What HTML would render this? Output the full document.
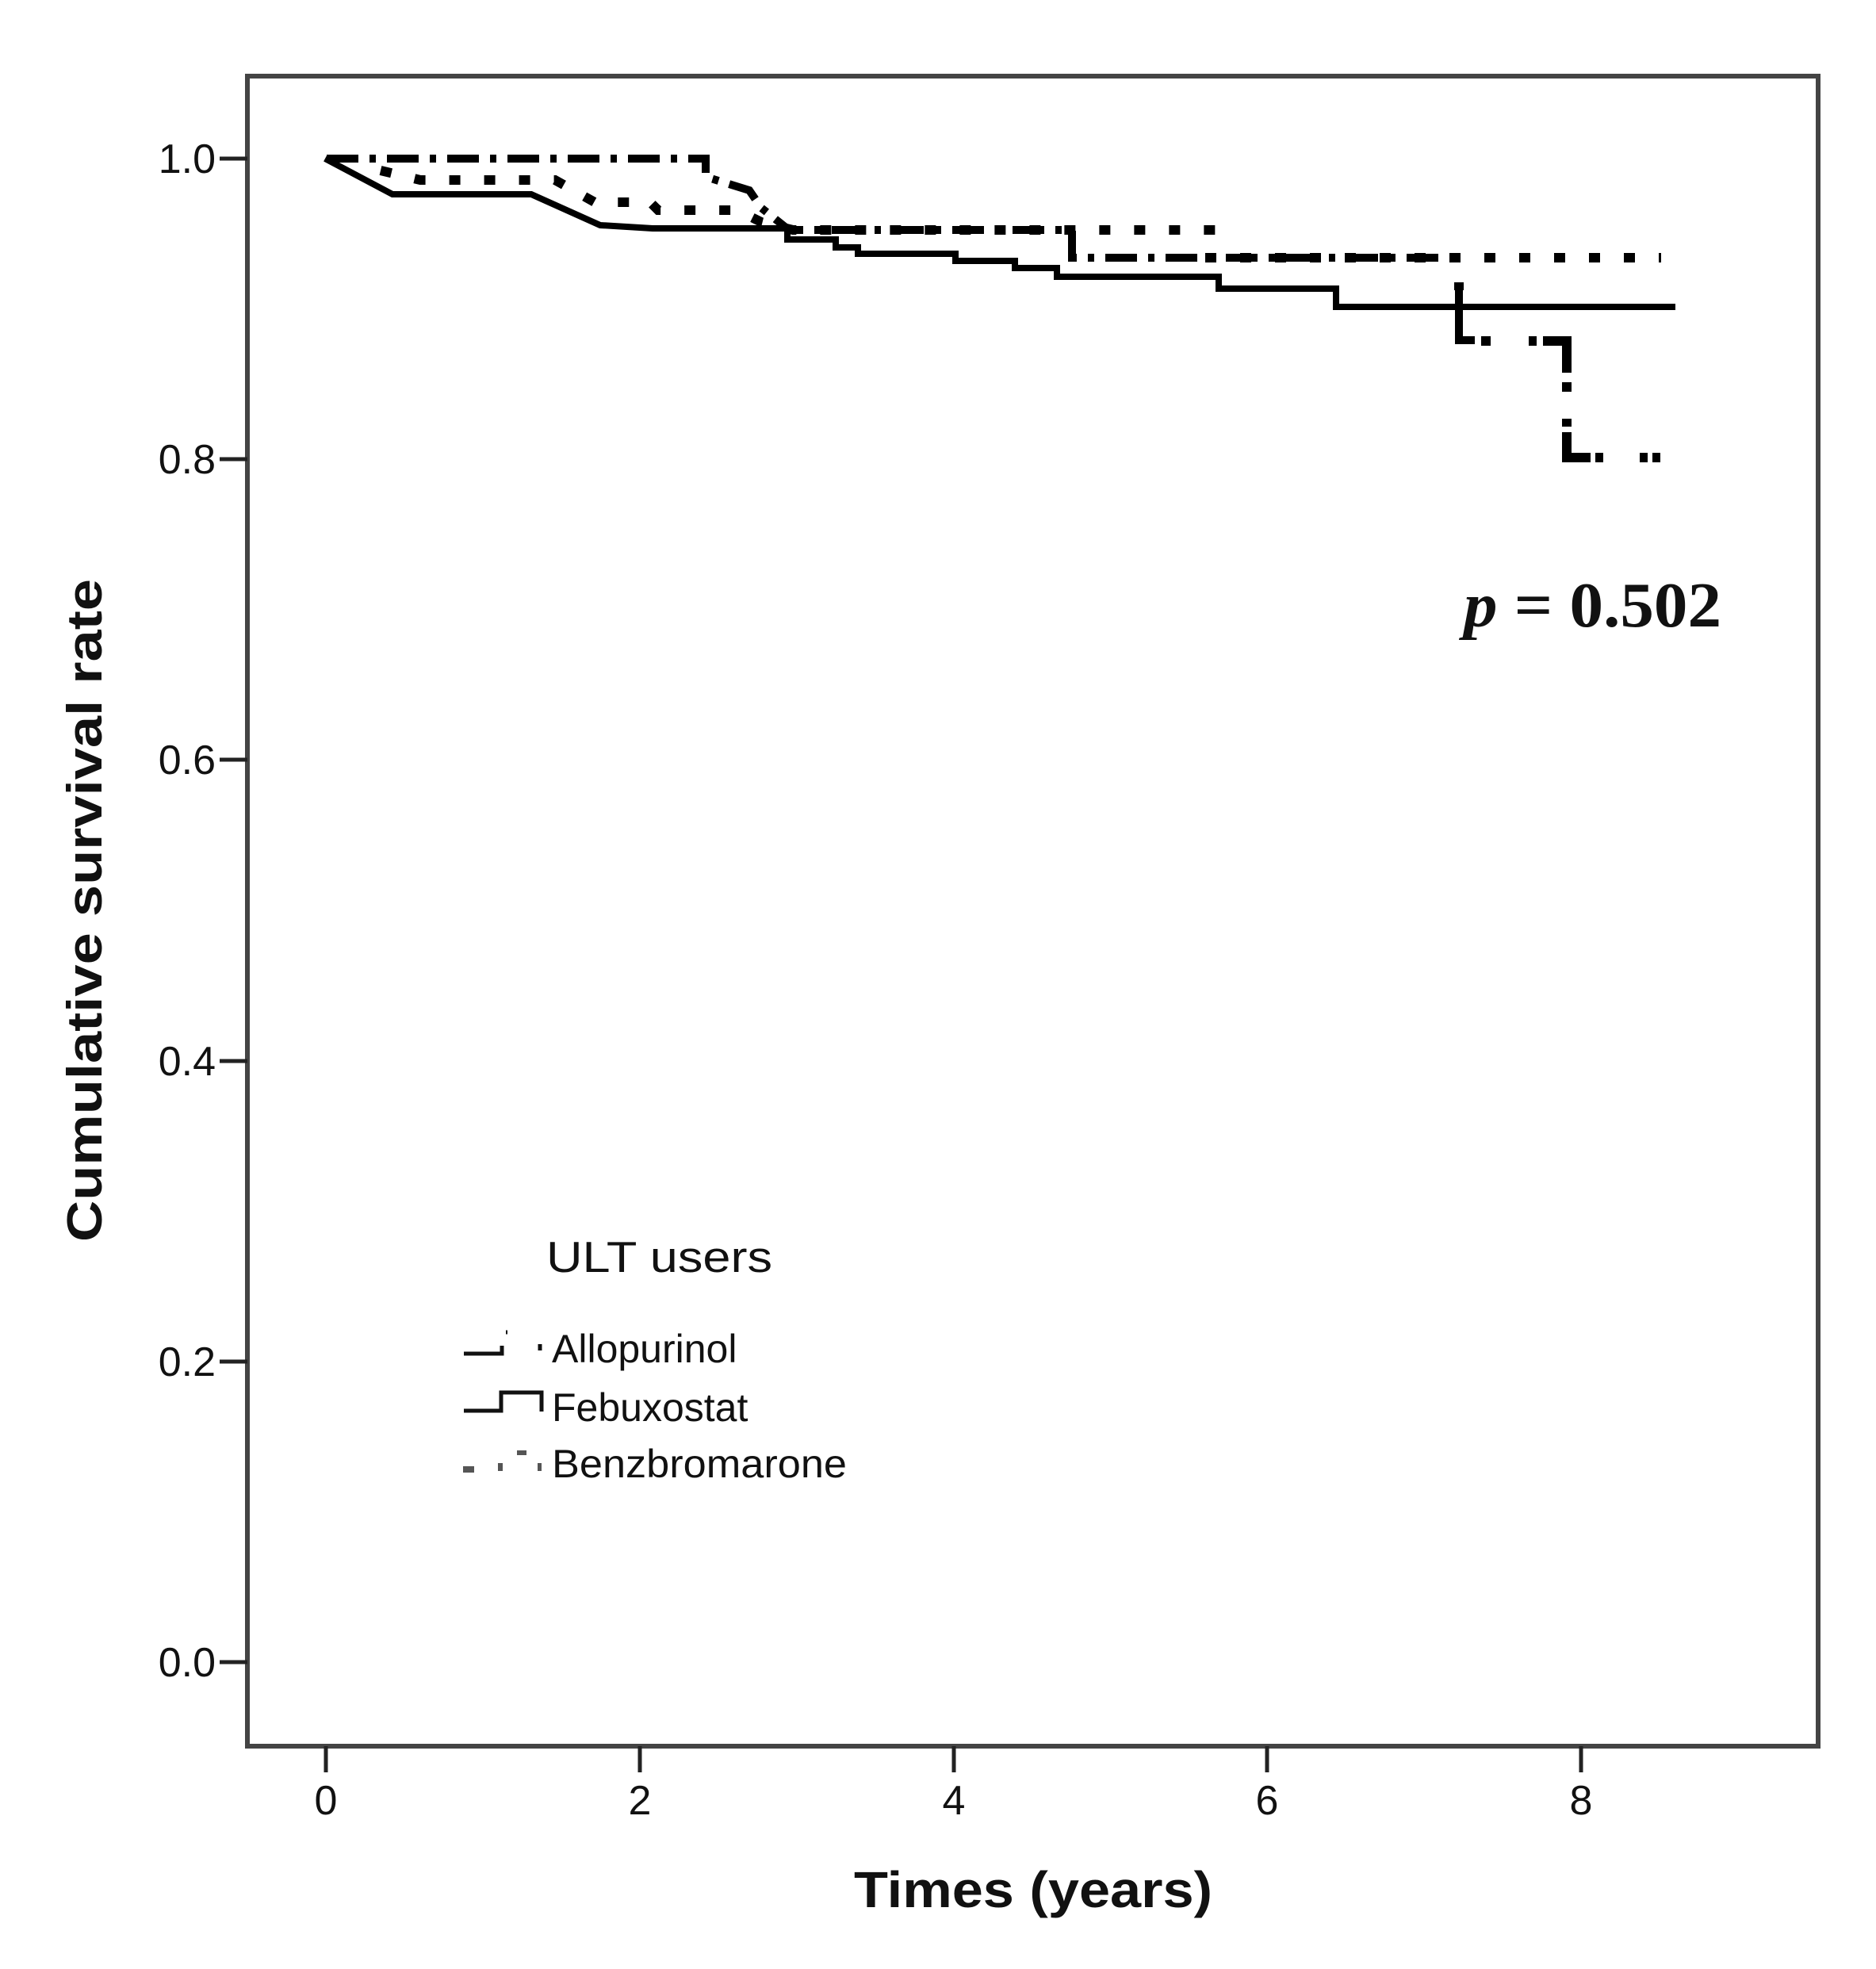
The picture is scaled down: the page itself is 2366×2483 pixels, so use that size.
<!DOCTYPE html>
<html><head><meta charset="utf-8"><style>
html,body{margin:0;padding:0;background:#fff;}
svg{display:block;}
text{font-family:"Liberation Sans",Arial,sans-serif;fill:#111;}
</style></head><body>
<svg width="2366" height="2483" viewBox="0 0 2366 2483" xmlns="http://www.w3.org/2000/svg">
<rect x="0" y="0" width="2366" height="2483" fill="#fff"/>
<rect x="312" y="96" width="1981" height="2106" fill="none" stroke="#444" stroke-width="6"/>
<g stroke="#222" stroke-width="5">
<line x1="277" y1="200" x2="312" y2="200"/>
<line x1="277" y1="579" x2="312" y2="579"/>
<line x1="277" y1="958" x2="312" y2="958"/>
<line x1="277" y1="1338" x2="312" y2="1338"/>
<line x1="277" y1="1717" x2="312" y2="1717"/>
<line x1="277" y1="2096" x2="312" y2="2096"/>
<line x1="411" y1="2202" x2="411" y2="2235"/>
<line x1="807" y1="2202" x2="807" y2="2235"/>
<line x1="1203" y1="2202" x2="1203" y2="2235"/>
<line x1="1598" y1="2202" x2="1598" y2="2235"/>
<line x1="1994" y1="2202" x2="1994" y2="2235"/>
</g>
<g font-size="52" text-anchor="end">
<text x="272" y="218">1.0</text>
<text x="272" y="597">0.8</text>
<text x="272" y="976">0.6</text>
<text x="272" y="1356">0.4</text>
<text x="272" y="1735">0.2</text>
<text x="272" y="2114">0.0</text>
</g>
<g font-size="52" text-anchor="middle">
<text x="411" y="2288">0</text>
<text x="807" y="2288">2</text>
<text x="1203" y="2288">4</text>
<text x="1598" y="2288">6</text>
<text x="1994" y="2288">8</text>
</g>
<text x="1303" y="2405" font-size="64" font-weight="bold" text-anchor="middle" textLength="452" lengthAdjust="spacingAndGlyphs">Times (years)</text>
<text transform="translate(128,1148) rotate(-90)" font-size="62" font-weight="bold" text-anchor="middle" textLength="836" lengthAdjust="spacingAndGlyphs">Cumulative survival rate</text>
<text x="1846" y="790" font-size="80" font-weight="bold" style="font-family:'Liberation Serif',serif" textLength="325" lengthAdjust="spacingAndGlyphs"><tspan font-style="italic">p</tspan> = 0.502</text>

<polyline fill="none" stroke="#000" stroke-width="8" points="410,200 495,245 670,245 757,284 823,288 993,288 993,302 1054,302 1054,312 1082,312 1082,320 1205,320 1205,329 1280,329 1280,338 1333,338 1333,349 1537,349 1537,364 1685,364 1685,387 2113,387"/>
<polyline fill="none" stroke="#000" stroke-width="10" stroke-dasharray="40,14,8,14" points="412,200 890,200 890,223 945,240 960,262 995,290 1352,290 1352,325 1840,325"/>
<polyline fill="none" stroke="#000" stroke-width="10" points="1840,362 1840,429 1860,429"/>
<g fill="#000">
<rect x="1834" y="356" width="12" height="10"/>
<rect x="1868" y="424" width="12" height="12"/>
<rect x="1928" y="424" width="10" height="12"/>
<rect x="1946" y="424" width="30" height="12"/>
<rect x="1970" y="424" width="12" height="46"/>
<rect x="1970" y="482" width="12" height="12"/>
<rect x="1970" y="528" width="12" height="10"/>
<rect x="1970" y="545" width="12" height="38"/>
<rect x="1970" y="571" width="36" height="12"/>
<rect x="2012" y="571" width="10" height="12"/>
<rect x="2068" y="571" width="10" height="12"/>
<rect x="2084" y="571" width="10" height="12"/>
</g>
<polyline fill="none" stroke="#000" stroke-width="12" stroke-dasharray="14,30" points="480,215 530,227 700,227 750,255 820,255 830,265 930,265 960,280 1000,290 1561,290"/>
<polyline fill="none" stroke="#000" stroke-width="12" stroke-dasharray="14,30" points="1520,325 2095,325"/>

<text x="689" y="1604" font-size="55" textLength="285" lengthAdjust="spacingAndGlyphs">ULT users</text>
<g font-size="50">
<text x="696" y="1718">Allopurinol</text>
<text x="696" y="1792">Febuxostat</text>
<text x="696" y="1863" textLength="372" lengthAdjust="spacingAndGlyphs">Benzbromarone</text>
</g>
<g stroke="#111" stroke-width="5" fill="none">
<polyline points="585,1707 633,1707 633,1697"/>
<line x1="638" y1="1680" x2="640" y2="1680"/>
<line x1="681" y1="1695" x2="681" y2="1703"/>
<polyline points="585,1779 632,1779 632,1756 683,1756 683,1780"/>
</g>
<g fill="#555">
<rect x="584" y="1849" width="14" height="8"/>
<rect x="628" y="1845" width="6" height="10"/>
<rect x="652" y="1829" width="12" height="6"/>
<rect x="678" y="1845" width="5" height="10"/>
</g>
</svg>
</body></html>
